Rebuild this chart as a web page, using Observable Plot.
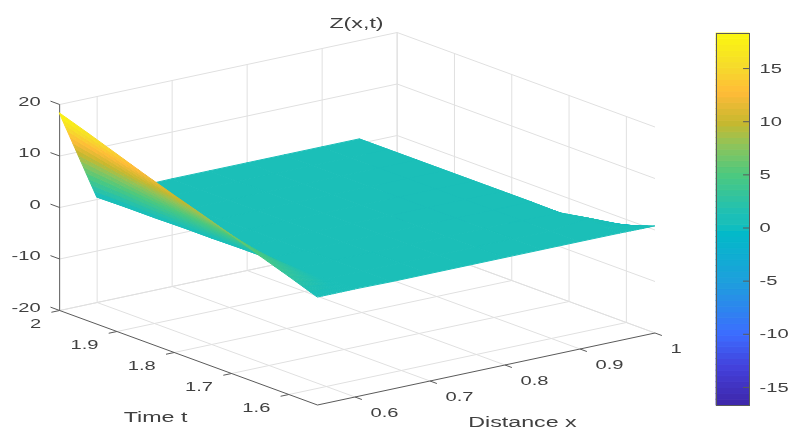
<!DOCTYPE html>
<html>
<head>
<meta charset="utf-8">
<script src="https://cdn.jsdelivr.net/npm/d3@7"></script>
<script src="https://cdn.jsdelivr.net/npm/@observablehq/plot@0.6"></script>
<style>
html,body{margin:0;padding:0;background:#fff}
#chart{position:relative;width:789px;height:430px;overflow:hidden}
#chart svg{position:absolute;filter:blur(.35px)}
</style>
</head>
<body>
<div id="chart"></div>
<script>
// ---- data ----
const xGrid = [0.55,0.6,0.65,0.7,0.75,0.8,0.85,0.9,0.95,1];
const tGrid = [1.55,1.6,1.65,1.7,1.75,1.8,1.85,1.9,1.95,2];
const zAtX055 = [0.9,2.9,4.8,6.8,8.7,10.5,12.4,14.4,16.4,18.3];
const zAtX060 = [0.9,0.8,0.8,0.7,0.7,0.6,0.6,0.5,0.5,0.4];
const zAtX065 = [0.8,0.8,0.8,0.7,0.7,0.7,0.7,0.7,0.7,0.7];
const zAtX070 = [0.8,0.8,0.8,0.8,0.8,0.8,0.8,0.8,0.8,0.8];
const zAtX075 = [0.8,0.8,0.8,0.8,0.8,0.8,0.8,0.8,0.8,0.8];
const zAtX080 = [0.8,0.8,0.8,0.8,0.8,0.8,0.8,0.8,0.8,0.8];
const zAtX085 = [0.8,0.8,0.8,0.8,0.8,0.8,0.8,0.8,0.8,0.8];
const zAtX090 = [0.8,0.8,0.8,0.8,0.8,0.8,0.8,0.8,0.8,0.8];
const zAtX095 = [0.8,1.7,0.7,0.8,0.8,0.8,0.8,0.8,0.8,0.8];
const zAtX100 = [0.7,-1.3,-3.2,-5.1,-7,-9,-10.9,-12.8,-14.8,-16.7];
const zColumns = [zAtX055,zAtX060,zAtX065,zAtX070,zAtX075,zAtX080,zAtX085,zAtX090,zAtX095,zAtX100];

const xTicks = [0.6,0.7,0.8,0.9,1];
const tTicks = [2,1.9,1.8,1.7,1.6];
const zTicks = [-20,-10,0,10,20];
const barTicks = [-15,-10,-5,0,5,10,15];
const colorLimits = [-16.7,18.3];
const parulaStops = [[0,"#3E26A8"],[0.1,"#4340DA"],[0.19,"#3C6CFF"],[0.33,"#1E9FDD"],[0.465,"#02BAC8"],[0.488,"#1BBFB8"],[0.51,"#1BBFB8"],[0.62,"#4CC97F"],[0.7,"#8FC45A"],[0.76,"#C7B82E"],[0.84,"#FFBB38"],[0.91,"#F6DB2B"],[1,"#FBF80E"]];

const xRange = [0.55,1], tRange = [1.55,2], zRange = [-20,20];

// ---- orthographic view of the 3D box ----
const view = {ox:317, oy:404.5, xx:750, xy:-160, tx:-573, ty:-210, zy:-5.15};
const sx = d => view.ox + (d.x-xRange[0])*view.xx + (d.t-tRange[0])*view.tx;
const sy = d => view.oy + (d.x-xRange[0])*view.xy + (d.t-tRange[0])*view.ty + (d.z-zRange[0])*view.zy;

// ---- surface: back to front, finely divided so colour interpolates ----
const cells = [];
let cid = 0;
for (let i = xGrid.length-2; i >= 0; i--) {
  for (let j = tGrid.length-2; j >= 0; j--) {
    const zz = [zColumns[i][j],zColumns[i+1][j],zColumns[i][j+1],zColumns[i+1][j+1]];
    const vary = d3.max(zz)-d3.min(zz) > 1;
    const nx = vary ? 14 : 1, nt = vary ? 4 : 1;
    const at = (u,v) => {
      const z = zz[0]*(1-u)*(1-v)+zz[1]*u*(1-v)+zz[2]*(1-u)*v+zz[3]*u*v;
      return {x:xGrid[i]+(xGrid[i+1]-xGrid[i])*u, t:tGrid[j]+(tGrid[j+1]-tGrid[j])*v, z};
    };
    for (let b = nt-1; b >= 0; b--) for (let a = nx-1; a >= 0; a--) {
      const p00=at(a/nx,b/nt),p10=at((a+1)/nx,b/nt),p01=at(a/nx,(b+1)/nt),p11=at((a+1)/nx,(b+1)/nt);
      const v=(p00.z+p10.z+p01.z+p11.z)/4, id=cid++;
      cells.push({id,v,a:p00,b:p10},{id,v,a:p01,b:p11});
    }
  }
}

// ---- box, grid, ticks ----
const [x0,x1]=xRange,[t0,t1]=tRange,[z0,z1]=zRange;
const seg=(ax,at,az,bx,bt,bz)=>({a:{x:ax,t:at,z:az},b:{x:bx,t:bt,z:bz}});
const grid=[];
for(const x of xTicks){grid.push(seg(x,t0,z0,x,t1,z0),seg(x,t1,z0,x,t1,z1));}
for(const t of tTicks){grid.push(seg(x0,t,z0,x1,t,z0),seg(x1,t,z0,x1,t,z1));}
for(const z of zTicks){grid.push(seg(x0,t1,z,x1,t1,z),seg(x1,t1,z,x1,t0,z));}
const axes=[seg(x0,t1,z0,x0,t1,z1),seg(x0,t1,z0,x0,t0,z0),seg(x0,t0,z0,x1,t0,z0)];
const zTickSegs=zTicks.map(z=>seg(x0,t1,z,x0,t1+0.016,z));
const tTickSegs=tTicks.map(t=>seg(x0,t,z0,x0-0.011,t,z0));
const xTickSegs=xTicks.map(x=>seg(x,t0,z0,x,t0-0.012,z0));

const colorOpts={type:"linear",domain:colorLimits,
  interpolate:t=>{
    const k=d3.bisectRight(parulaStops.map(s=>s[0]),t);
    if(k<=0)return parulaStops[0][1];
    if(k>=parulaStops.length)return parulaStops[parulaStops.length-1][1];
    const [a,ca]=parulaStops[k-1],[b,cb]=parulaStops[k];
    return d3.interpolateRgb(ca,cb)((t-a)/(b-a));
  }};

const link=(data,o)=>Plot.link(data,{x1:d=>sx(d.a),y1:d=>sy(d.a),x2:d=>sx(d.b),y2:d=>sy(d.b),...o});
const ink="#404040", fontFamily="'Liberation Sans',Arial,sans-serif";
const lblData=[{s:"Z(x,t)",px:356,py:23},{s:"Time t",px:155,py:417},{s:"Distance x",px:522,py:421.5}];

const main=Plot.plot({
  width:789,height:430,margin:0,
  style:{background:"transparent",fontFamily},
  x:{domain:[0,789],range:[0,789],axis:null},
  y:{domain:[0,430],range:[0,430],axis:null},
  color:colorOpts,
  marks:[
    link(grid,{stroke:"#e0e0e0",strokeWidth:1}),
    link(axes,{stroke:"#5a5a5a",strokeWidth:1}),
    link(zTickSegs,{stroke:"#5a5a5a",strokeWidth:1}),
    link(tTickSegs,{stroke:"#5a5a5a",strokeWidth:1}),
    link(xTickSegs,{stroke:"#5a5a5a",strokeWidth:1}),
    Plot.area(cells,{x1:d=>sx(d.a),y1:d=>sy(d.a),x2:d=>sx(d.b),y2:d=>sy(d.b),z:"id",fill:"v",stroke:"v",strokeWidth:1}),
    Plot.text(zTicks,{x:()=>sx({x:x0,t:t1,z:0}),y:d=>sy({x:x0,t:t1,z:d}),text:d=>String(d),textAnchor:"end",dx:-19,dy:-3,fontSize:13,fill:ink}),
    Plot.text(tTicks,{x:d=>sx({x:x0,t:d,z:z0}),y:d=>sy({x:x0,t:d,z:z0}),text:d=>String(d),textAnchor:"end",dx:-18.5,dy:13.5,fontSize:13,fill:ink}),
    Plot.text(xTicks,{x:d=>sx({x:d,t:t0,z:z0}),y:d=>sy({x:d,t:t0,z:z0}),text:d=>String(d),textAnchor:"start",dx:15.5,dy:15.5,fontSize:13,fill:ink}),
    Plot.text(lblData,{x:"px",y:"py",text:"s",fontSize:15,fill:ink})
  ]
});

// ---- colour bar ----
const levels=d3.range(64).map(i=>{
  const [lo,hi]=colorLimits,s=(hi-lo)/64;
  return {lo:lo+i*s,hi:lo+(i+1)*s,v:lo+(i+0.5)*s};
});
const bar=Plot.plot({
  width:73,height:372,marginLeft:0,marginRight:40,marginTop:0,marginBottom:0,
  style:{background:"transparent",fontFamily,overflow:"visible"},
  x:{domain:[0,1],axis:null},
  y:{domain:colorLimits,axis:null},
  color:colorOpts,
  marks:[
    Plot.rect(levels,{x1:()=>0,x2:()=>1,y1:"lo",y2:"hi",fill:"v",stroke:"v",strokeWidth:0.8}),
    Plot.ruleY(barTicks,{x1:()=>0.82,x2:()=>1,stroke:"#5a5a5a"}),
    Plot.frame({stroke:"#5a5a5a"}),
    Plot.axisY(barTicks,{anchor:"right",tickSize:0,tickPadding:10,tickFormat:d=>String(d),fontSize:13,fill:ink,label:null})
  ]
});
bar.style.left="716px";bar.style.top="33px";
main.style.left="0";main.style.top="0";

// the reference image is stretched horizontally: widen its lettering the same way
for(const svg of [main,bar]){
  d3.select(svg).selectAll("text").each(function(){
    const tr=this.getAttribute("transform")||"";
    this.setAttribute("transform",tr+" scale(1.55,1)");
  });
}
const host=document.getElementById("chart");
host.append(main,bar);
</script>
</body>
</html>
